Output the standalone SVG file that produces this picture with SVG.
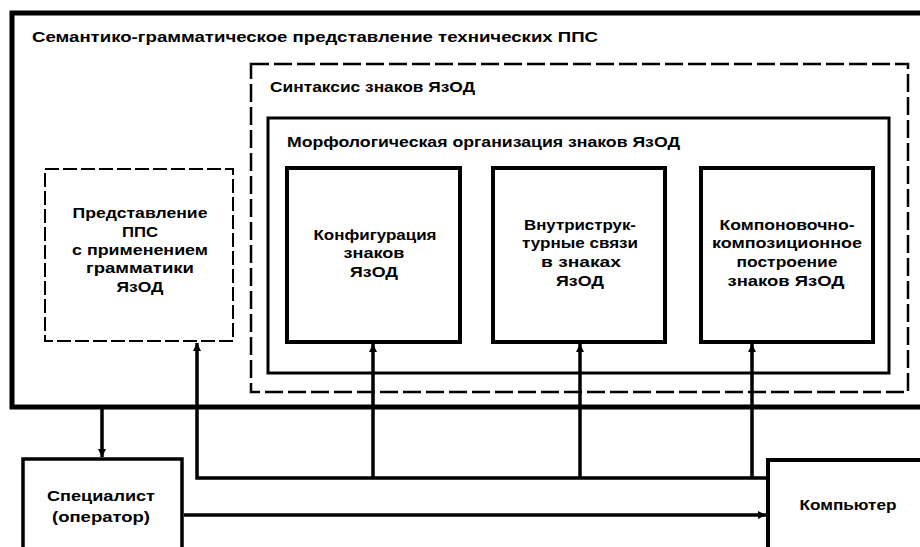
<svg xmlns="http://www.w3.org/2000/svg" width="920" height="547" viewBox="0 0 920 547">
<style>
text{font-family:"Liberation Sans",Arial,sans-serif;font-weight:bold;font-size:15px;fill:#000}
.c{text-anchor:middle}
.box{fill:none;stroke:#000}
.ln{fill:none;stroke:#000;stroke-width:3.5}
</style>
<defs>
<marker id="ah" viewBox="0 0 10 10" refX="10" refY="5" markerWidth="8" markerHeight="8" markerUnits="userSpaceOnUse" orient="auto">
<path d="M0,0L10,5L0,10z" fill="#000"/>
</marker>
</defs>
<rect width="920" height="547" fill="#fff"/>
<g id="outer">
<rect class="box" x="12" y="13" width="930" height="394" stroke-width="5"/>
<text x="32" y="42" textLength="566" lengthAdjust="spacingAndGlyphs">Семантико-грамматическое представление технических ППС</text>
</g>
<g id="syntax">
<rect class="box" x="251" y="64" width="657" height="328" stroke-width="2.5" stroke-dasharray="18,5"/>
<text x="270" y="92" textLength="205" lengthAdjust="spacingAndGlyphs">Синтаксис знаков ЯзОД</text>
</g>
<g id="morph">
<rect class="box" x="268" y="118" width="621" height="255" stroke-width="3"/>
<text x="287" y="147" textLength="393" lengthAdjust="spacingAndGlyphs">Морфологическая организация знаков ЯзОД</text>
</g>
<g id="predst">
<rect class="box" x="45" y="169" width="188" height="172" stroke-width="2" stroke-dasharray="14,4"/>
<text class="c" x="140" y="218" textLength="135" lengthAdjust="spacingAndGlyphs">Представление</text>
<text class="c" x="140" y="237" textLength="36" lengthAdjust="spacingAndGlyphs">ППС</text>
<text class="c" x="140" y="255" textLength="136" lengthAdjust="spacingAndGlyphs">с применением</text>
<text class="c" x="140" y="273" textLength="108" lengthAdjust="spacingAndGlyphs">грамматики</text>
<text class="c" x="140" y="292" textLength="47" lengthAdjust="spacingAndGlyphs">ЯзОД</text>
</g>
<g id="konfig">
<rect class="box" x="287" y="168" width="173" height="174" stroke-width="4"/>
<text class="c" x="375" y="240" textLength="123" lengthAdjust="spacingAndGlyphs">Конфигурация</text>
<text class="c" x="374" y="258" textLength="61" lengthAdjust="spacingAndGlyphs">знаков</text>
<text class="c" x="374" y="277" textLength="48" lengthAdjust="spacingAndGlyphs">ЯзОД</text>
</g>
<g id="vnutr">
<rect class="box" x="493" y="168" width="172" height="174" stroke-width="4"/>
<text class="c" x="580" y="230" textLength="112" lengthAdjust="spacingAndGlyphs">Внутриструк-</text>
<text class="c" x="580" y="248" textLength="116" lengthAdjust="spacingAndGlyphs">турные связи</text>
<text class="c" x="581" y="267" textLength="80" lengthAdjust="spacingAndGlyphs">в знаках</text>
<text class="c" x="580" y="286" textLength="48" lengthAdjust="spacingAndGlyphs">ЯзОД</text>
</g>
<g id="kompon">
<rect class="box" x="701" y="168" width="172" height="174" stroke-width="4"/>
<text class="c" x="787" y="230" textLength="135" lengthAdjust="spacingAndGlyphs">Компоновочно-</text>
<text class="c" x="787" y="248" textLength="150" lengthAdjust="spacingAndGlyphs">композиционное</text>
<text class="c" x="787" y="267" textLength="101" lengthAdjust="spacingAndGlyphs">построение</text>
<text class="c" x="786" y="286" textLength="117" lengthAdjust="spacingAndGlyphs">знаков ЯзОД</text>
</g>
<g id="specialist">
<rect class="box" x="23" y="459" width="159" height="110" stroke-width="3.5"/>
<text class="c" x="101" y="501" textLength="108" lengthAdjust="spacingAndGlyphs">Специалист</text>
<text class="c" x="101" y="522" textLength="98" lengthAdjust="spacingAndGlyphs">(оператор)</text>
</g>
<g id="computer">
<rect class="box" x="768" y="460" width="170" height="110" stroke-width="4"/>
<text class="c" x="848" y="510" textLength="97" lengthAdjust="spacingAndGlyphs">Компьютер</text>
</g>
<g id="connectors">
<line class="ln" x1="102" y1="409" x2="102" y2="457" marker-end="url(#ah)"/>
<polyline class="ln" points="766,478 197,478 197,343" marker-end="url(#ah)"/>
<line class="ln" x1="373" y1="478" x2="373" y2="344" marker-end="url(#ah)"/>
<line class="ln" x1="580" y1="478" x2="580" y2="344" marker-end="url(#ah)"/>
<line class="ln" x1="752" y1="478" x2="752" y2="344" marker-end="url(#ah)"/>
<line class="ln" x1="184" y1="515" x2="766" y2="515" marker-end="url(#ah)"/>
</g>
</svg>
